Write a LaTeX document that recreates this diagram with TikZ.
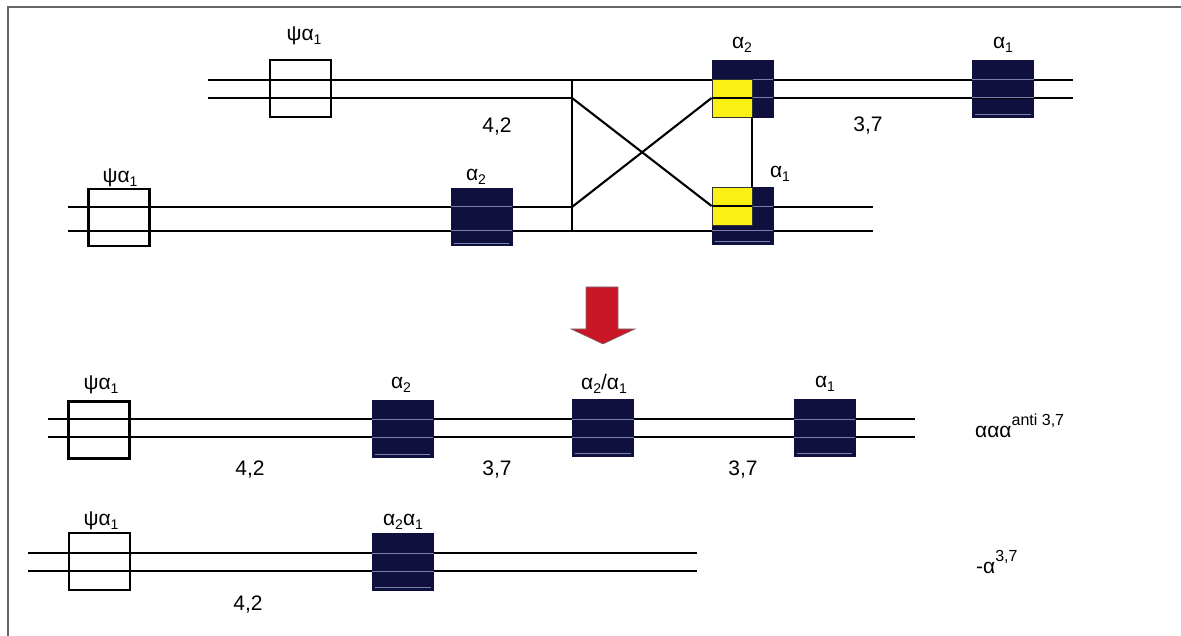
\documentclass[tikz,border=0pt]{standalone}
\usepackage{fontspec}
\setmainfont{Liberation Sans}
\definecolor{navy}{RGB}{16,16,62}
\definecolor{lightln}{RGB}{120,130,175}
\definecolor{yelfill}{RGB}{250,240,20}
\definecolor{arrowred}{RGB}{200,22,38}
\newcommand\sbs[1]{\raisebox{-0.35ex}{\fontsize{14}{14}\selectfont #1}}
\newcommand\sps[1]{\raisebox{1.05ex}{\fontsize{16}{16}\selectfont #1}}
\begin{document}
\begin{tikzpicture}[x=1pt,y=-1pt,
  every node/.style={font=\fontsize{21}{24}\selectfont},
  dnaline/.style={line width=2.1pt,black},
  openbox/.style={draw=black,line width=2.1pt,minimum width=61pt,minimum height=57pt,inner sep=0pt},
  darkbox/.style={fill=navy,draw=navy,line width=0.8pt,minimum width=61pt,minimum height=57pt,inner sep=0pt},
  yellowbox/.style={fill=yelfill,draw=black!80,line width=0.8pt,minimum width=40pt,minimum height=38pt,inner sep=0pt},
  lightline/.style={draw=lightln,line width=1pt},
  lbl/.style={inner sep=0pt,anchor=center}]
\useasboundingbox (0,0) rectangle (1181,636);
\fill[white] (0,0) rectangle (1181,636);
% frame
\draw[black!60,line width=1.2pt] (8,636) -- (8,7) -- (1181,7);

% ---------- row 1 ----------
\coordinate (r1a) at (208,80);  \coordinate (r1ae) at (1073,80);
\coordinate (r1b) at (208,98);  \coordinate (r1be) at (1073,98);
\coordinate (xtop) at (572,80); \coordinate (xb1) at (572,98);
\coordinate (xb2) at (572,207); \coordinate (xbot) at (572,231);
% ---------- row 2 ----------
\coordinate (r2a) at (68,207);  \coordinate (r2ae) at (873,207);
\coordinate (r2b) at (68,231);  \coordinate (r2be) at (873,231);
% ---------- row 3 ----------
\coordinate (r3a) at (48,419);  \coordinate (r3ae) at (915,419);
\coordinate (r3b) at (48,437);  \coordinate (r3be) at (915,437);
% ---------- row 4 ----------
\coordinate (r4a) at (28,553);  \coordinate (r4ae) at (697,553);
\coordinate (r4b) at (28,571);  \coordinate (r4be) at (697,571);

% DNA lines
\draw[dnaline] (r1a) -- (r1ae);
\draw[dnaline] (r1b) -- (xb1);
\draw[dnaline] (r2a) -- (xb2);
\draw[dnaline] (r2b) -- (r2be);
\draw[dnaline] (xtop) -- (xbot);
\draw[dnaline] (r3a) -- (r3ae);
\draw[dnaline] (r3b) -- (r3be);
\draw[dnaline] (r4a) -- (r4ae);
\draw[dnaline] (r4b) -- (r4be);

% boxes row 1 and 2
\node[openbox] (p1) at (300.5,88.5) {};
\node[darkbox] (d1) at (742.5,88.5) {};
\node[darkbox] (d2) at (1003,88.5) {};
\node[openbox] (p2) at (119,217.5) {};
\node[darkbox] (d3) at (481.5,217) {};
\node[darkbox] (d4) at (742.5,215.5) {};

\draw[dnaline] (d1.east |- r1b) -- (r1be);
\draw[dnaline,line width=1.5pt] (d4.east |- r2a) -- (r2ae);

% light lines in dark boxes
\foreach \b/\ya/\yb in {d2/80/98,d3/207/231} {
  \draw[lightline] (\b.west |- 0,\ya) -- (\b.east |- 0,\ya);
  \draw[lightline] (\b.west |- 0,\yb) -- (\b.east |- 0,\yb);
  \draw[lightline,line width=0.7pt] ([xshift=3pt,yshift=3pt]\b.south west) -- ([xshift=-3pt,yshift=3pt]\b.south east);
}
\draw[lightline] (752,80) -- (d1.east |- 0,80);
\draw[lightline] (752,98) -- (d1.east |- 0,98);
\draw[lightline] (752,207) -- (d4.east |- 0,207);
\draw[lightline] (d4.west |- 0,231) -- (d4.east |- 0,231);
\draw[lightline,line width=0.7pt] ([xshift=3pt,yshift=3pt]d4.south west) -- ([xshift=-3pt,yshift=3pt]d4.south east);

% yellow boxes
\node[yellowbox] (y1) at (732,98) {};
\node[yellowbox] (y2) at (732,206) {};
\draw[black,line width=1.2pt] (y1.west) -- (y1.east);
\draw[black,line width=1.2pt] (y2.west) -- (y2.east);
% crossover
\draw[dnaline] (xb1) -- (y2.west);
\draw[dnaline] (xb2) -- (y1.west);
\draw[dnaline] (y1.south east) -- (y2.north east);

% labels rows 1-2
\node[lbl] (l1) at (304,36) {ψα\sbs{1}};
\node[lbl] (l2) at (742,45) {α\sbs{2}};
\node[lbl] (l3) at (1003,45) {α\sbs{1}};
\node[lbl] (l4) at (120,178) {ψα\sbs{1}};
\node[lbl] (l5) at (476,177) {α\sbs{2}};
\node[lbl] (l6) at (780,174) {α\sbs{1}};
\node[lbl] (n1) at (497,127) {4,2};
\node[lbl] (n2) at (868,126) {3,7};

% red arrow
\fill[arrowred,draw=black!55,line width=0.6pt] (586,287) -- (618,287) -- (618,329) -- (635,329) -- (603,344) -- (571,329) -- (586,329) -- cycle;

% row 3 boxes
\node[openbox] (p3) at (99,430) {};
\node[darkbox] (d5) at (402.5,428.5) {};
\node[darkbox] (d6) at (603,427.5) {};
\node[darkbox] (d7) at (824.5,427.5) {};
\foreach \b in {d5,d6,d7} {
  \draw[lightline] (\b.west |- r3a) -- (\b.east |- r3a);
  \draw[lightline] (\b.west |- r3b) -- (\b.east |- r3b);
  \draw[lightline,line width=0.7pt] ([xshift=3pt,yshift=3pt]\b.south west) -- ([xshift=-3pt,yshift=3pt]\b.south east);
}
\node[lbl] (l7) at (101,385) {ψα\sbs{1}};
\node[lbl] (l8) at (401,385) {α\sbs{2}};
\node[lbl] (l9) at (604,384) {α\sbs{2}/α\sbs{1}};
\node[lbl] (l10) at (825,384) {α\sbs{1}};
\node[lbl] (n3) at (250,470) {4,2};
\node[lbl] (n4) at (497,470) {3,7};
\node[lbl] (n5) at (743,470) {3,7};
\node[inner sep=0pt,anchor=base west] (t1) at (975,437) {ααα\sps{anti 3,7}};

% row 4 boxes
\node[openbox] (p4) at (99.5,561.5) {};
\node[darkbox] (d8) at (403,561.5) {};
\draw[lightline] (d8.west |- r4a) -- (d8.east |- r4a);
\draw[lightline] (d8.west |- r4b) -- (d8.east |- r4b);
\draw[lightline,line width=0.7pt] ([xshift=3pt,yshift=3pt]d8.south west) -- ([xshift=-3pt,yshift=3pt]d8.south east);
\node[lbl] (l11) at (101,521) {ψα\sbs{1}};
\node[lbl] (l12) at (403,522) {α\sbs{2}α\sbs{1}};
\node[lbl] (n6) at (248,605) {4,2};
\node[inner sep=0pt,anchor=base west] (t2) at (976,573) {-α\sps{3,7}};
\end{tikzpicture}
\end{document}
